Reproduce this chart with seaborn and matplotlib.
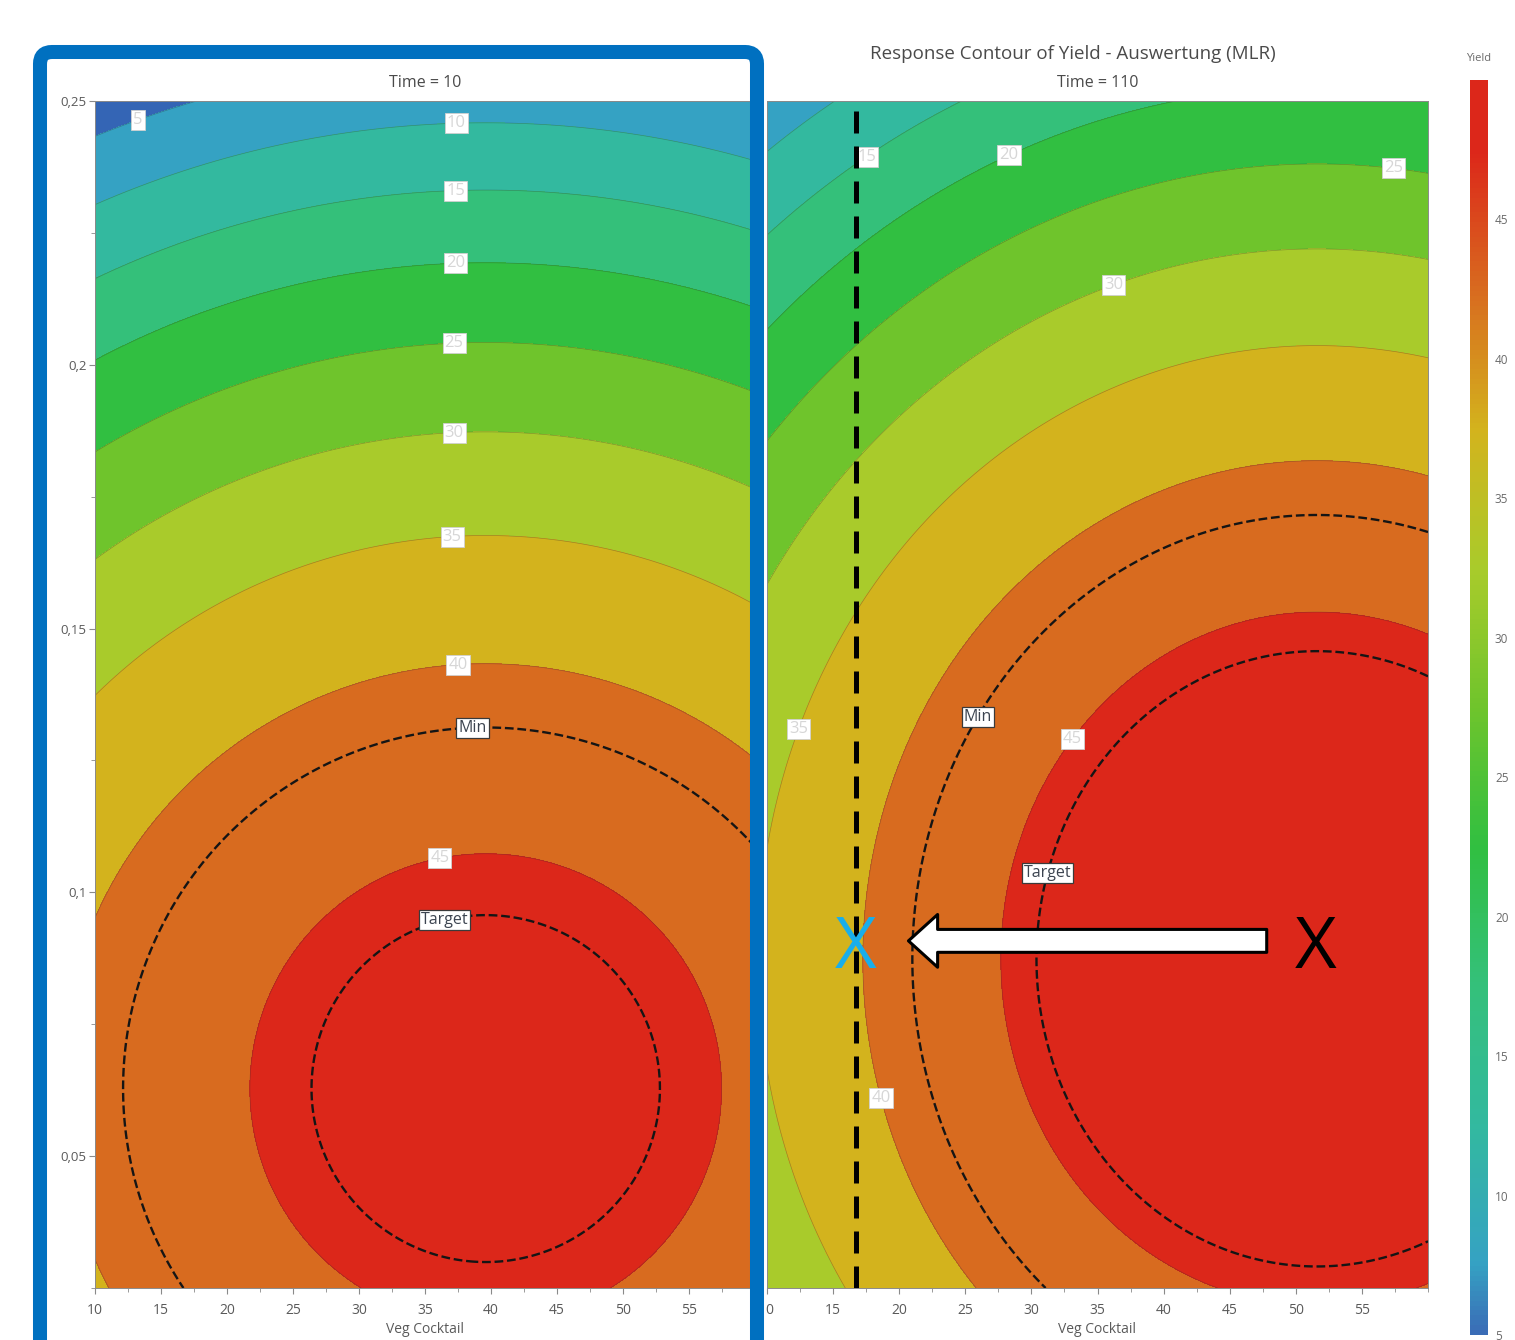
import numpy as np
import matplotlib
matplotlib.use("Agg")
import matplotlib.pyplot as plt
import seaborn as sns
from matplotlib.colors import LinearSegmentedColormap, Normalize
from matplotlib.cm import ScalarMappable
from matplotlib.patches import FancyBboxPatch
from matplotlib.ticker import MultipleLocator, FuncFormatter

# ---- data ----
veg_range = [10, 60]
water_range = [0.025, 0.25]
times = [10, 110]

# quadratic MLR response per time: peak yield, factor settings at peak, curvature
peak_yield = [47.2, 49.7]
peak_veg = [39.6, 51.6]
peak_water = [0.0628, 0.0874]
curv_veg = [0.00689, 0.00822]
curv_water = [1110.0, 1088.0]

yield_levels = [0, 5, 10, 15, 20, 25, 30, 35, 40, 45, 50]
band_colors = ["#3465b5", "#35a2c3", "#33b99f", "#34c07a", "#31bf41",
               "#6fc42c", "#a9cb2b", "#d3b31d", "#d86b1f", "#dc271a"]
limit_levels = [42, 46]
limit_names = {42: "Min", 46: "Target"}

cbar_ticks = [5, 10, 15, 20, 25, 30, 35, 40, 45]

# annotation points on the Time = 110 panel (Veg Cocktail, Water)
current_point = [16.7, 0.0908]
optimum_point = [51.5, 0.0908]
arrow_tail = [47.8, 0.0908]
arrow_tip = [20.7, 0.0908]

# label spots for the contour labels (nearest contour is picked)
label_spots = [
    [(13.3, 0.2462), (37.35, 0.2464), (37.3, 0.2338), (37.3, 0.2196), (37.2, 0.2043),
     (37.2, 0.1874), (37.05, 0.1675), (37.5, 0.1434), (36.06, 0.1072)],
    [(17.1, 0.2411), (28.1, 0.2408), (57.5, 0.2389), (36.06, 0.2162), (11.6, 0.1317),
     (18.26, 0.0608), (32.95, 0.1294)],
]
limit_spots = [
    [(38.6, 0.1311), (36.4, 0.0957)],
    [(25.6, 0.1338), (31.1, 0.1038)],
]

sns.set_theme(style="white")
plt.rcParams["font.family"] = ["Open Sans", "DejaVu Sans"]

W_PX, H_PX = 1515, 1340
fig = plt.figure(figsize=(W_PX / 100, H_PX / 100), dpi=100)

ax_bottom = 1 - 1288 / H_PX
ax_height = (1288 - 101) / H_PX
ax_left = fig.add_axes([95 / W_PX, ax_bottom, 660 / W_PX, ax_height])
ax_right = fig.add_axes([767 / W_PX, ax_bottom, 661 / W_PX, ax_height])
axes = [ax_left, ax_right]

veg = np.linspace(veg_range[0], veg_range[1], 401)
water = np.linspace(water_range[0], water_range[1], 401)
V, Wt = np.meshgrid(veg, water)

grey = "#5a5a5a"
comma = FuncFormatter(lambda v, p: f"{v:g}".replace(".", ","))

for i, ax in enumerate(axes):
    Z = (peak_yield[i] - curv_veg[i] * (V - peak_veg[i]) ** 2
         - curv_water[i] * (Wt - peak_water[i]) ** 2)
    ax.contourf(V, Wt, Z, levels=yield_levels, colors=band_colors)
    cs = ax.contour(V, Wt, Z, levels=yield_levels[1:-1], colors="#303030",
                    linewidths=0.5, alpha=0.35)
    lim = ax.contour(V, Wt, Z, levels=limit_levels, colors="#151515",
                     linewidths=1.7, linestyles="--")
    ax.set_xlim(veg_range)
    ax.set_ylim(water_range)

    txt = ax.clabel(cs, manual=label_spots[i], inline=False, fmt="%d",
                    fontsize=12, colors="#8a8a8a")
    for t in txt:
        t.set_rotation(0)
        t.set_bbox(dict(boxstyle="square,pad=0.12", fc="white", ec="#d0d0d0", lw=0.6))
    txt = ax.clabel(lim, manual=limit_spots[i], inline=False, fmt=limit_names,
                    fontsize=11.5, colors="#3c4450")
    for t in txt:
        t.set_rotation(0)
        t.set_bbox(dict(boxstyle="square,pad=0.12", fc="white", ec="#3a3a3a", lw=0.9))

    ax.set_xticks(np.arange(10, 56, 5))
    ax.xaxis.set_minor_locator(MultipleLocator(2.5))
    ax.tick_params(axis="x", which="both", bottom=True, direction="out",
                   color="#8a8a8a", labelsize=10, labelcolor=grey, pad=7)
    ax.tick_params(axis="x", which="major", length=4, width=0.8)
    ax.tick_params(axis="x", which="minor", length=3, width=0.6)
    ax.set_xlabel("Veg Cocktail", fontsize=10, color=grey, labelpad=3)
    ax.set_title(f"Time = {times[i]}", fontsize=11.5, color="#4a4a4a", pad=10)
    for s in ax.spines.values():
        s.set_color("#8a8a8a")
        s.set_linewidth(0.7)

ax_left.yaxis.set_major_locator(MultipleLocator(0.05))
ax_left.yaxis.set_minor_locator(MultipleLocator(0.025))
ax_left.yaxis.set_major_formatter(comma)
ax_left.tick_params(axis="y", which="both", left=True, direction="out",
                    color="#8a8a8a", labelsize=9.5, labelcolor=grey, pad=2)
ax_left.tick_params(axis="y", which="major", length=4, width=0.8)
ax_left.tick_params(axis="y", which="minor", length=3, width=0.6)
ax_left.set_ylabel("Water", fontsize=9, color=grey)
ax_left.yaxis.set_label_coords(-0.067, 0.5)
ax_right.set_yticks([])

# annotations on the right panel
ax_right.axvline(current_point[0], color="black", lw=3.6, dashes=(4.4, 2.6), zorder=4)
ax_right.annotate("", xy=arrow_tip, xytext=arrow_tail,
                  arrowprops=dict(arrowstyle="simple,head_length=21,head_width=38,tail_width=16.5",
                                  mutation_scale=1, fc="white", ec="black", lw=2.2,
                                  shrinkA=0, shrinkB=0), zorder=5)
ax_right.text(current_point[0], current_point[1], "X", color="#19aeea", fontsize=52,
              ha="center", va="center_baseline", zorder=6)
ax_right.text(optimum_point[0], optimum_point[1], "X", color="black", fontsize=52,
              ha="center", va="center_baseline", zorder=6)

# colour bar
cbar_cmap = LinearSegmentedColormap.from_list(
    "yield", [((v - 5) / 45, c) for v, c in zip(
        [5, 7.5, 12.5, 17.5, 22.5, 27.5, 32.5, 37.5, 42.5, 47.5, 50],
        ["#3a6cb6"] + band_colors[1:] + ["#dc271a"])])
cax = fig.add_axes([1470 / W_PX, 1 - 1335 / H_PX, 18 / W_PX, (1335 - 80) / H_PX])
cb = fig.colorbar(ScalarMappable(norm=Normalize(5, 50), cmap=cbar_cmap), cax=cax)
cb.set_ticks(cbar_ticks)
cb.outline.set_visible(False)
cax.tick_params(length=0, labelsize=8.5, labelcolor="#6a6a6a", pad=5)
cax.set_title("Yield", fontsize=8, color="#6a6a6a", pad=14)

fig.text(1073 / W_PX, 1 - 54 / H_PX, "Response Contour of Yield - Auswertung (MLR)",
         ha="center", va="center", fontsize=13.5, color="#4a4a4a")

# blue highlight frame around the Time = 10 panel
frame = FancyBboxPatch((0.40, -0.3), 7.17, (H_PX - 52) / 100 + 0.3,
                       boxstyle="round,pad=0,rounding_size=0.12",
                       transform=fig.dpi_scale_trans, fill=False,
                       ec="#0070c0", lw=10.1, zorder=10)
fig.add_artist(frame)

fig.savefig("out.png", dpi=100)
